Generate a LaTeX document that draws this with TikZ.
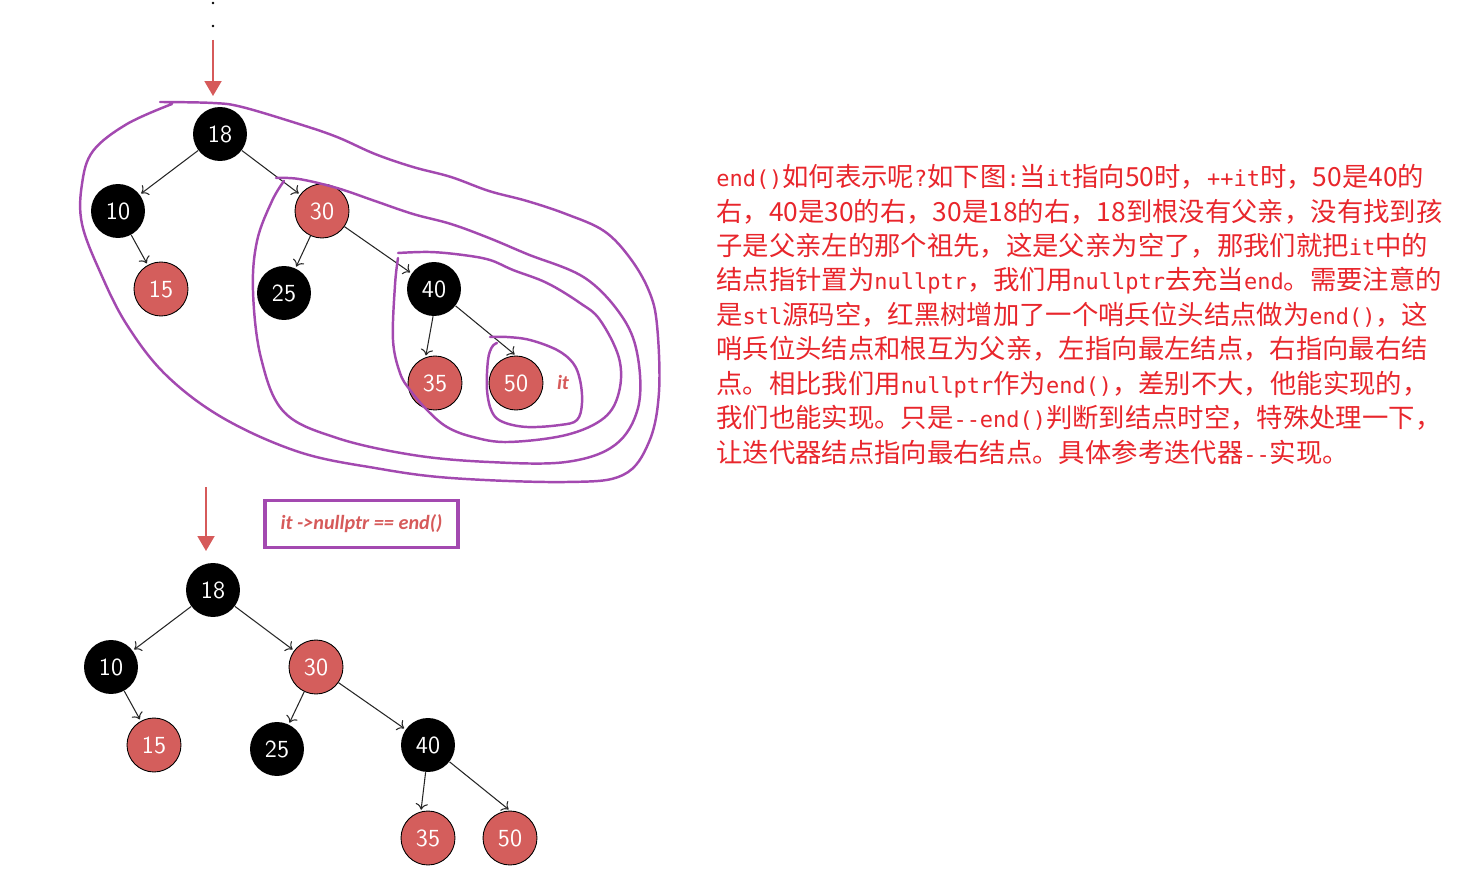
\documentclass[tikz,border=0pt]{standalone}
\usepackage{fontspec}
\newfontfamily\cjk{Noto Sans CJK SC}
\newfontfamily\latmono{DejaVu Sans Mono}
\newfontfamily\calib{Carlito}
\usetikzlibrary{arrows.meta}
\definecolor{nodered}{RGB}{212,94,92}
\definecolor{markpurple}{RGB}{163,73,176}
\definecolor{textred}{RGB}{232,38,44}
\definecolor{arrowred}{RGB}{214,90,90}
\newcommand{\lat}[1]{{\latmono\fontsize{12.5}{19.6}\selectfont #1}}
\tikzset{
  rb/.style={circle, minimum size=1.08cm, inner sep=0pt, text=white, font=\sffamily\fontsize{14}{16}\selectfont},
  blacknode/.style={rb, fill=black},
  rednode/.style={rb, fill=nodered, draw=black, line width=0.5pt},
  link/.style={-{To[length=3.5pt,width=7pt]}, line width=0.6pt, black!85, shorten >=1pt},
  redarrow/.style={-{Triangle[length=0.3cm,width=0.34cm]}, line width=1.1pt, arrowred},
  circled/.style={markpurple, line width=1.4pt, line cap=round, line join=round},
  itlabel/.style={text=arrowred, font=\calib\bfseries\itshape\fontsize{11.5}{13}\selectfont},
}
\begin{document}
\begin{tikzpicture}[x=0.02cm, y=-0.02cm]
\useasboundingbox (0,0) rectangle (1478,885);
% dots and arrow into the upper tree
\fill (213,3) circle[radius=0.8pt];
\fill (213,26) circle[radius=0.8pt];
\coordinate (topfrom) at (213,40);
\coordinate (topto) at (213,96);
\draw[redarrow] (topfrom) -- (topto);

% upper tree
\node[blacknode] (a18) at (220,134) {18};
\node[blacknode] (a10) at (118,211) {10};
\node[rednode] (a15) at (161,289) {15};
\node[rednode] (a30) at (322,211) {30};
\node[blacknode] (a25) at (284,293) {25};
\node[blacknode] (a40) at (434,289) {40};
\node[rednode] (a35) at (435,383) {35};
\node[rednode] (a50) at (516,383) {50};
\node[itlabel] (ait) at (563,382) {it};
\draw[link] (a18) -- (a10);
\draw[link] (a18) -- (a30);
\draw[link] (a10) -- (a15);
\draw[link] (a30) -- (a25);
\draw[link] (a30) -- (a40);
\draw[link] (a40.268) -- (a35.110);
\draw[link] (a40.-38) -- (a50.north);

% hand drawn rings
\draw[circled] plot[smooth, tension=0.6] coordinates {(160,102) (213,103) (242,107) (299,124) (337,137) (375,154) (413,167) (451,177) (489,191) (527,201) (566,214) (604,231) (630,258) (649,291) (657,325) (659,392) (649,442) (623,475) (566,482) (451,478) (375,468) (299,452) (223,418) (166,375) (127,325) (101,274) (82,224) (82,184) (93,151) (127,124) (172,104)};
\draw[circled] plot[smooth, tension=0.6] coordinates {(276,178) (299,179) (337,188) (375,201) (413,214) (451,224) (489,238) (527,254) (585,278) (623,318) (638,358) (638,408) (615,445) (566,462) (489,462) (413,455) (337,438) (284,412) (261,358) (253,291) (257,241) (272,201) (284,181)};
\draw[circled] plot[smooth, tension=0.6] coordinates {(398,253) (430,252) (463,255) (490,260) (513,270) (547,283) (580,303) (600,320) (619,358) (619,392) (604,418) (566,435) (508,442) (473,437) (447,427) (427,410) (410,390) (400,373) (393,340) (395,285) (398,258)};
\draw[circled] plot[smooth, tension=0.6] coordinates {(490,337) (507,337) (530,340) (557,350) (573,363) (580,380) (582,403) (577,420) (560,425) (527,427) (503,422) (492,412) (487,390) (488,360) (492,347) (497,343)};

% arrow into the lower tree
\coordinate (lowfrom) at (206,487);
\coordinate (lowto) at (206,551);
\draw[redarrow] (lowfrom) -- (lowto);
\node[itlabel, draw=markpurple, line width=2.2pt, minimum width=3.86cm, minimum height=0.94cm] (endnote) at (361.5,524) {it ->nullptr == end()};

% lower tree
\node[blacknode] (b18) at (213,590) {18};
\node[blacknode] (b10) at (111,667) {10};
\node[rednode] (b15) at (154,745) {15};
\node[rednode] (b30) at (316,667) {30};
\node[blacknode] (b25) at (277,749) {25};
\node[blacknode] (b40) at (428,745) {40};
\node[rednode] (b35) at (428,838) {35};
\node[rednode] (b50) at (510,838) {50};
\draw[link] (b18) -- (b10);
\draw[link] (b18) -- (b30);
\draw[link] (b10) -- (b15);
\draw[link] (b30) -- (b25);
\draw[link] (b30) -- (b40);
\draw[link] (b40.265) -- (b35.105);
\draw[link] (b40.-38) -- (b50.north);

% explanation
\node[anchor=north west, align=left, inner sep=0pt, text=textred, font=\cjk\fontsize{15}{19.6}\selectfont] (note) at (716,164) {%
\lat{end()}如何表示呢\lat{?}如下图\lat{:}当\lat{it}指向50时，\lat{++it}时，50是40的\\
右，40是30的右，30是18的右，18到根没有父亲，没有找到孩\\
子是父亲左的那个祖先，这是父亲为空了，那我们就把\lat{it}中的\\
结点指针置为\lat{nullptr}，我们用\lat{nullptr}去充当\lat{end}。需要注意的\\
是\lat{stl}源码空，红黑树增加了一个哨兵位头结点做为\lat{end()}，这\\
哨兵位头结点和根互为父亲，左指向最左结点，右指向最右结\\
点。相比我们用\lat{nullptr}作为\lat{end()}，差别不大，他能实现的，\\
我们也能实现。只是\lat{-{}-end()}判断到结点时空，特殊处理一下，\\
让迭代器结点指向最右结点。具体参考迭代器\lat{-{}-}实现。};
\end{tikzpicture}
\end{document}
